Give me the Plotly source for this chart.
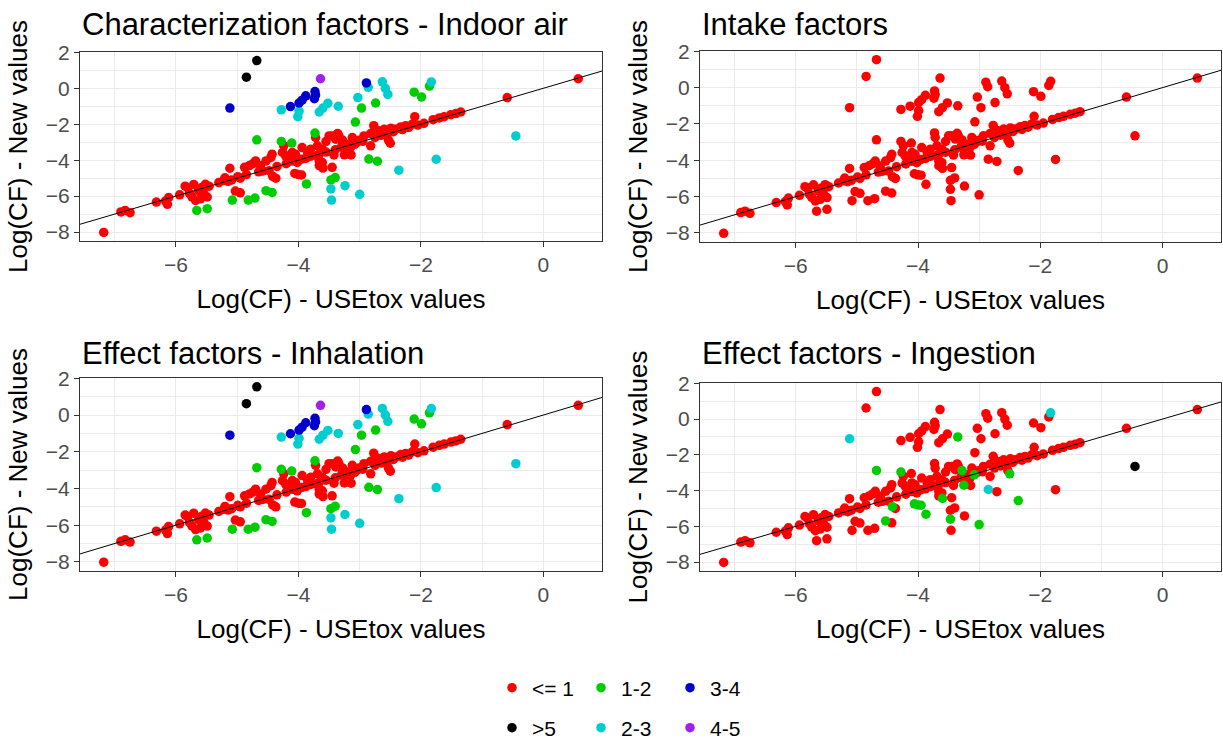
import plotly.graph_objects as go

# log10 CF: USEtox values (x) against newly derived values (y)
# substances that stay within one order of magnitude in every panel
x_core = [-7.18, -6.90, -6.83, -6.75, -6.32, -6.17, -6.14, -6.12, -5.94, -5.85,
          -5.81, -5.78, -5.74, -5.71, -5.68, -5.63, -5.60, -5.58, -5.55, -5.52,
          -5.49, -5.46, -5.30, -5.22, -5.20, -5.15, -5.12, -5.09, -5.03, -4.95,
          -4.99, -4.95, -4.88, -4.85, -4.80, -4.74, -4.70, -4.65, -4.62, -4.58,
          -4.53, -4.48, -4.45, -4.43, -4.37, -4.35, -4.26, -4.24, -4.21, -4.20,
          -4.15, -4.10, -4.10, -4.05, -4.02, -3.95, -3.94, -3.88, -3.85, -3.80,
          -3.80, -3.72, -3.70, -3.69, -3.66, -3.66, -3.66, -3.61, -3.61, -3.55,
          -3.55, -3.50, -3.45, -3.45, -3.42, -3.40, -3.39, -3.36, -3.34, -3.30,
          -3.28, -3.25, -3.20, -3.15, -3.14, -3.12, -3.05, -3.01, -2.95, -2.93,
          -2.82, -2.82, -2.77, -2.75, -2.69, -2.65, -2.63, -2.60, -2.55, -2.53,
          -2.49, -2.45, -2.41, -2.33, -2.30, -2.25, -2.20, -2.14, -2.10, -2.05,
          -1.95, -1.80, -1.70, -1.62, -1.51, -1.43, -1.35, -0.59, 0.57]
y_core = [-8.02, -6.88, -6.80, -6.92, -6.33, -6.27, -6.46, -6.08, -5.93, -5.45,
          -5.53, -5.85, -6.04, -5.35, -6.24, -5.70, -6.15, -5.52, -5.82, -5.34,
          -6.05, -5.45, -5.25, -5.13, -4.98, -5.18, -4.45, -5.10, -5.72, -5.82,
          -4.92, -5.00, -4.40, -4.80, -4.30, -4.19, -4.04, -4.65, -4.31, -4.60,
          -4.04, -4.59, -3.85, -3.67, -5.00, -4.35, -3.57, -3.20, -3.76, -4.20,
          -4.04, -3.57, -4.05, -3.67, -4.13, -3.95, -3.30, -3.90, -3.57, -3.39,
          -3.78, -2.74, -3.75, -3.20, -3.67, -4.04, -4.30, -3.39, -4.13, -2.96,
          -3.55, -2.65, -2.65, -4.40, -3.71, -3.42, -2.83, -2.51, -2.65, -3.28,
          -3.02, -3.30, -3.11, -3.30, -3.71, -2.74, -3.02, -2.89, -2.95, -2.65,
          -2.52, -3.20, -2.08, -2.74, -2.37, -2.62, -2.42, -2.28, -2.55, -2.88,
          -2.22, -2.42, -2.28, -2.15, -2.30, -2.09, -2.18, -2.00, -1.58, -2.05,
          -1.95, -1.75, -1.65, -1.58, -1.47, -1.41, -1.32, -0.52, 0.53]

# substances that deviate by more than one order of magnitude in some panel
x_dev = [-5.66, -5.49, -5.08, -4.82, -4.71, -4.53, -4.43, -4.42, -4.06, -4.00,
         -3.95, -3.87, -3.60, -3.47, -3.40, -3.47, -3.46, -3.24, -3.00, -3.28,
         -3.25, -3.08, -2.50, -2.85, -2.71, -2.36, -1.75, -0.45, -4.68, -4.28,
         -4.11, -3.73, -3.07, -2.97, -2.74, -2.11, -1.99, -1.86, -1.83, -5.12,
         -4.85, -4.68, -3.64, -4.28, -4.13, -4.01, -3.99, -3.99, -3.94, -3.88,
         -3.73, -3.72, -3.74, -3.66, -3.60, -3.52, -3.35, -3.03, -2.89, -2.86,
         -2.63, -2.58, -2.54]
y_dev = [-6.80, -6.70, -6.22, -6.22, -6.11, -5.70, -5.80, -4.90, -4.74, -4.80,
         -4.82, -5.32, -4.44, -5.10, -4.97, -5.60, -6.22, -5.42, -5.90, -2.88,
         -3.70, -3.12, -3.06, -3.94, -4.06, -4.56, -3.95, -2.65, -2.87, -2.96,
         -3.05, -2.49, -1.88, -1.10, -0.82, -0.22, -0.48, 0.12, 0.35, -1.10,
         0.62, 1.54, 0.53, -1.20, -1.02, -1.58, -1.27, -0.82, -0.66, -0.42,
         -0.18, -0.38, -0.58, -1.32, -1.10, -0.84, -1.00, -0.52, 0.30, 0.05,
         0.36, 0.00, -0.34]
# deviation class (orders of magnitude) for indoor air CF / inhalation EF
band_air_dev = ["1-2", "1-2", "1-2", "1-2", "1-2", "1-2", "1-2", "<= 1", "<= 1", "<= 1",
                "<= 1", "1-2", "<= 1", "1-2", "1-2", "2-3", "2-3", "2-3", "2-3", "<= 1",
                "<= 1", "<= 1", "<= 1", "1-2", "1-2", "2-3", "2-3", "2-3", "1-2", "1-2",
                "1-2", "1-2", "1-2", "1-2", "1-2", "1-2", "1-2", "1-2", "2-3", "3-4",
                ">5", ">5", "4-5", "2-3", "3-4", "2-3", "2-3", "3-4", "3-4", "3-4",
                "3-4", "3-4", "3-4", "2-3", "2-3", "2-3", "2-3", "2-3", "3-4", "2-3",
                "2-3", "2-3", "2-3"]
# deviation class for ingestion EF
band_ing_dev = ["<= 1", "<= 1", "<= 1", "<= 1", "<= 1", "1-2", "<= 1", "1-2", "1-2", "1-2",
                "1-2", "1-2", "1-2", "<= 1", "<= 1", "1-2", "<= 1", "<= 1", "1-2", "1-2",
                "1-2", "1-2", "1-2", "2-3", "<= 1", "1-2", "<= 1", ">5", "1-2", "1-2",
                "<= 1", "<= 1", "<= 1", "<= 1", "<= 1", "<= 1", "<= 1", "<= 1", "2-3", "2-3",
                "<= 1", "<= 1", "<= 1", "<= 1", "<= 1", "<= 1", "<= 1", "<= 1", "<= 1", "<= 1",
                "<= 1", "<= 1", "<= 1", "<= 1", "<= 1", "<= 1", "1-2", "<= 1", "<= 1", "<= 1",
                "<= 1", "<= 1", "<= 1"]

panel_titles = ["Characterization factors - Indoor air", "Intake factors",
                "Effect factors - Inhalation", "Effect factors - Ingestion"]
band_order = ["<= 1", "1-2", "2-3", "3-4", "4-5", ">5"]
band_colors = {"<= 1": "#FF0000", "1-2": "#00CD00", "2-3": "#00CDCD",
               "3-4": "#0000CD", "4-5": "#A020F0", ">5": "#000000"}
# legend laid out column-wise in two rows, as ggplot does
band_legend = {"<= 1": ("legend", 1), "1-2": ("legend", 2), "3-4": ("legend", 3),
               ">5": ("legend2", 4), "2-3": ("legend2", 5), "4-5": ("legend2", 6)}

usetox = x_core + x_dev
new_values = y_core + y_dev
n_core = len(x_core)
panel_bands = [
    ["<= 1"] * n_core + band_air_dev,
    ["<= 1"] * len(usetox),
    ["<= 1"] * n_core + band_air_dev,
    ["<= 1"] * n_core + band_ing_dev,
]

def expanded(values, frac=0.05):
    lo, hi = min(values), max(values)
    pad = (hi - lo) * frac
    return [lo - pad, hi + pad]

x_range = expanded(usetox)
y_range = expanded(new_values)

W, H = 1223, 740
# panel boxes in pixels: left, right, top, bottom
boxes = [(80, 602, 52, 241), (700, 1221, 51, 242),
         (80, 602, 378, 571), (700, 1221, 383, 571)]
title_bottom = [44, 44, 373, 373]

FONT = "Liberation Sans, Arial, sans-serif"
fig = go.Figure()

for i, (title, bands) in enumerate(zip(panel_titles, panel_bands)):
    sfx = "" if i == 0 else str(i + 1)
    for band in band_order:
        xs = [x for x, b in zip(usetox, bands) if b == band]
        ys = [y for y, b in zip(new_values, bands) if b == band]
        if not xs:
            continue
        leg, rank = band_legend[band]
        fig.add_trace(go.Scatter(
            x=xs, y=ys, mode="markers", name=band,
            marker=dict(color=band_colors[band], size=9.5, line=dict(width=0)),
            xaxis="x" + sfx, yaxis="y" + sfx,
            showlegend=(i == 0), legend=leg, legendrank=rank,
        ))
    # identity line y = x across the panel
    fig.add_trace(go.Scatter(
        x=x_range, y=x_range, mode="lines", line=dict(color="black", width=1),
        xaxis="x" + sfx, yaxis="y" + sfx, showlegend=False, hoverinfo="skip",
    ))

    l, r, t, b = boxes[i]
    grid = dict(showline=True, mirror=True, linecolor="#333333", linewidth=1.1,
                ticks="outside", ticklen=5, tickcolor="#333333", tickwidth=1.1,
                showgrid=True, gridcolor="#EBEBEB", gridwidth=1.2, zeroline=False,
                tickfont=dict(family=FONT, size=21, color="#4D4D4D"),
                minor=dict(dtick=1, tick0=0, showgrid=True, gridcolor="#EBEBEB",
                           gridwidth=0.7, ticks=""),
                tick0=0, dtick=2)
    fig.layout["xaxis" + sfx] = dict(
        grid, domain=[l / W, r / W], range=x_range,
        anchor="y" + sfx,
        title=dict(text="Log(CF) - USEtox values", standoff=14,
                   font=dict(family=FONT, size=26, color="black")))
    fig.layout["yaxis" + sfx] = dict(
        grid, domain=[1 - b / H, 1 - t / H], range=y_range,
        anchor="x" + sfx,
        title=dict(text="Log(CF) - New values", standoff=10,
                   font=dict(family=FONT, size=26, color="black")))
    fig.add_annotation(text=title, xref="paper", yref="paper",
                       x=l / W, y=1 - title_bottom[i] / H,
                       xanchor="left", yanchor="bottom", showarrow=False,
                       font=dict(family=FONT, size=31, color="black"))

legend_style = dict(orientation="h", xanchor="left", yanchor="middle",
                    x=492 / W, entrywidth=44, entrywidthmode="pixels",
                    font=dict(family=FONT, size=21, color="black"),
                    bgcolor="rgba(0,0,0,0)", traceorder="normal")
fig.update_layout(
    width=W, height=H, autosize=False,
    margin=dict(l=0, r=0, t=0, b=0, autoexpand=False),
    paper_bgcolor="white", plot_bgcolor="white",
    font=dict(family=FONT, color="black"),
    legend=dict(legend_style, y=1 - 688 / H),
    legend2=dict(legend_style, y=1 - 728 / H),
)

fig.write_html("out.html")
